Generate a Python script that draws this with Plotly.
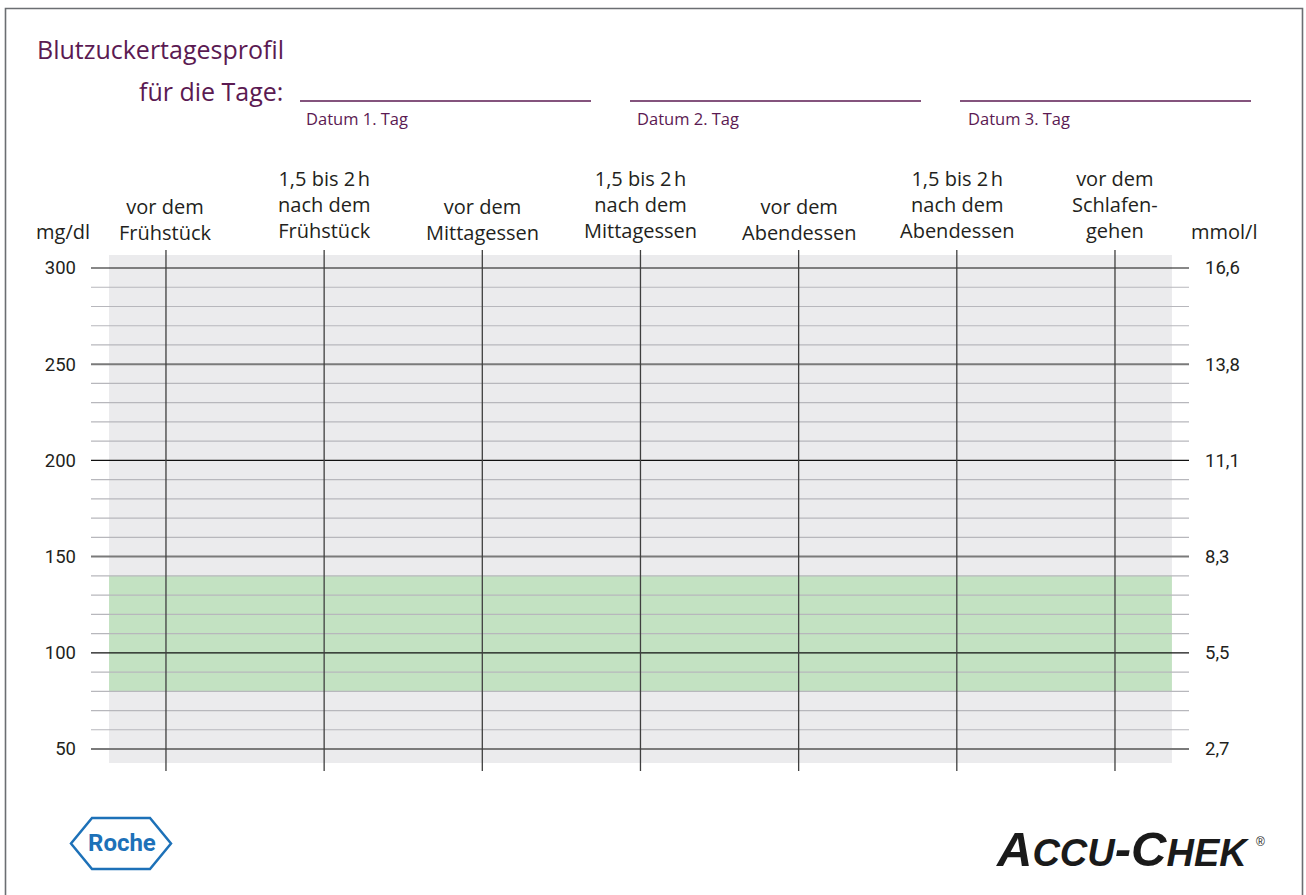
import plotly.graph_objects as go

# ---------------- data ----------------
headers = [
    ["vor dem", "Frühstück"],
    ["1,5 bis 2\u202fh", "nach dem", "Frühstück"],
    ["vor dem", "Mittagessen"],
    ["1,5 bis 2\u202fh", "nach dem", "Mittagessen"],
    ["vor dem", "Abendessen"],
    ["1,5 bis 2\u202fh", "nach dem", "Abendessen"],
    ["vor dem", "Schlafen-", "gehen"],
]
mgdl_ticks = [50, 100, 150, 200, 250, 300]
mgdl_text = ["50", "100", "150", "200", "250", "300"]
mmol_text = ["2,7", "5,5", "8,3", "11,1", "13,8", "16,6"]
minor_lines = [v for v in range(60, 300, 10) if v % 50 != 0]
black_lines = [100, 200, 300]
gray_lines = [50, 150, 250]
target_range = [80, 140]
date_labels = ["Datum 1. Tag", "Datum 2. Tag", "Datum 3. Tag"]

# ---------------- geometry ----------------
W, H = 1306, 895
L, R, T, B = 91, 1189, 250, 771          # plot area in pixels
YR = [38.57, 309.36]
XR = [-0.474, 6.468]
BG_X = [-0.36, 6.36]
BG_Y = [42.73, 306.76]

def px(x):
    return (x - L) / (R - L)

def py(y):
    return (B - y) / (B - T)

PURPLE = "#5b1a52"
TXT = "#231f20"
FONT_H = "Open Sans"
FONT_N = "Roboto"

fig = go.Figure()
fig.add_trace(go.Scatter(x=[0, 6], y=[50, 300], mode="markers",
                         marker=dict(opacity=0), hoverinfo="skip", showlegend=False))
fig.add_trace(go.Scatter(x=[0, 6], y=[50, 300], mode="markers", yaxis="y2",
                         marker=dict(opacity=0), hoverinfo="skip", showlegend=False))

shapes = []
shapes.append(dict(type="rect", xref="x", yref="y", x0=BG_X[0], x1=BG_X[1],
                   y0=BG_Y[0], y1=BG_Y[1], fillcolor="#ebebed", line=dict(width=0), layer="below"))
shapes.append(dict(type="rect", xref="x", yref="y", x0=BG_X[0], x1=BG_X[1],
                   y0=target_range[0], y1=target_range[1], fillcolor="#c3e2c2",
                   line=dict(width=0), layer="below"))
for v in minor_lines:
    shapes.append(dict(type="line", xref="paper", yref="y", x0=0, x1=1, y0=v, y1=v,
                       line=dict(color="#b7b7bc", width=1.2), layer="above"))
for v in gray_lines:
    shapes.append(dict(type="line", xref="paper", yref="y", x0=0, x1=1, y0=v, y1=v,
                       line=dict(color="#7a7a7a", width=2), layer="above"))
for v in black_lines:
    shapes.append(dict(type="line", xref="paper", yref="y", x0=0, x1=1, y0=v, y1=v,
                       line=dict(color="#111111", width=1.2), layer="above"))
for i in range(len(headers)):
    shapes.append(dict(type="line", xref="x", yref="paper", x0=i, x1=i, y0=0, y1=1,
                       line=dict(color="#3f3f3f", width=1.3), layer="above"))
for x0, x1 in [(300, 591), (630, 921), (960, 1251)]:
    shapes.append(dict(type="line", xref="paper", yref="paper", x0=px(x0), x1=px(x1),
                       y0=py(101), y1=py(101), line=dict(color=PURPLE, width=1.5)))
shapes.append(dict(type="rect", xref="paper", yref="paper", x0=px(5.5), x1=px(1302.5),
                   y0=py(905), y1=py(8.5), line=dict(color="#6b6e72", width=1.6)))
hx = [(92, 818), (150, 818), (171, 843.5), (150, 869), (92, 869), (71, 843.5)]
path = "M " + " L ".join(f"{px(a)},{py(b)}" for a, b in hx) + " Z"
shapes.append(dict(type="path", xref="paper", yref="paper", path=path,
                   line=dict(color="#1d71b8", width=2.5)))

ann = []
ann.append(dict(text="Blutzuckertagesprofil", x=px(35), y=py(49), xref="paper", yref="paper",
                xanchor="left", yanchor="middle", showarrow=False,
                font=dict(family=FONT_H, size=25, color=PURPLE)))
ann.append(dict(text="für die Tage:", x=px(285), y=py(91), xref="paper", yref="paper",
                xanchor="right", yanchor="middle", showarrow=False,
                font=dict(family=FONT_H, size=25, color=PURPLE)))
for lbl, x in zip(date_labels, [304, 635, 966]):
    ann.append(dict(text=lbl, x=px(x), y=py(118), xref="paper", yref="paper",
                    xanchor="left", yanchor="middle", showarrow=False,
                    font=dict(family=FONT_H, size=16.5, color=PURPLE)))
for i, lines in enumerate(headers):
    yc = 220 if len(lines) == 2 else 204
    ann.append(dict(text="<br>".join(lines), x=i, y=py(yc), xref="x", yref="paper",
                    xanchor="center", yanchor="middle", showarrow=False, align="center",
                    font=dict(family=FONT_H, size=20, color=TXT)))
ann.append(dict(text="mg/dl", x=px(63), y=py(232), xref="paper", yref="paper",
                xanchor="center", yanchor="middle", showarrow=False,
                font=dict(family=FONT_H, size=20, color=TXT)))
ann.append(dict(text="mmol/l", x=px(1224), y=py(232), xref="paper", yref="paper",
                xanchor="center", yanchor="middle", showarrow=False,
                font=dict(family=FONT_H, size=20, color=TXT)))
ann.append(dict(text="<b>Roche</b>", x=px(122), y=py(843), xref="paper", yref="paper",
                xanchor="center", yanchor="middle", showarrow=False,
                font=dict(family="Liberation Sans Narrow, Roboto", size=24, color="#1d71b8")))
ann.append(dict(text="<b><i>A<span style='font-size:38px'>CCU</span>-C<span style='font-size:38px'>HEK</span></i></b>",
                x=px(1251), y=py(849), xref="paper", yref="paper",
                xanchor="right", yanchor="middle", showarrow=False,
                font=dict(family="Liberation Sans", size=49, color="#1a1a1a")))
ann.append(dict(text="®", x=px(1254), y=py(842), xref="paper", yref="paper",
                xanchor="left", yanchor="middle", showarrow=False,
                font=dict(family="Liberation Sans", size=12, color="#1a1a1a")))

fig.update_layout(
    width=W, height=H,
    margin=dict(l=L, r=W - R, t=T, b=H - B, pad=0),
    paper_bgcolor="white", plot_bgcolor="rgba(0,0,0,0)",
    showlegend=False,
    xaxis=dict(range=XR, showgrid=False, zeroline=False, showline=False,
               showticklabels=False, ticks="", fixedrange=True),
    yaxis=dict(range=YR, tickvals=mgdl_ticks, ticktext=mgdl_text, showgrid=False,
               zeroline=False, showline=False, ticks="", ticklabelstandoff=14,
               tickfont=dict(family=FONT_N, size=18.5, color=TXT), fixedrange=True),
    yaxis2=dict(range=YR, overlaying="y", side="right", tickvals=mgdl_ticks,
                ticktext=mmol_text, showgrid=False, zeroline=False, showline=False,
                ticks="", ticklabelstandoff=15,
                tickfont=dict(family=FONT_N, size=18.5, color=TXT), fixedrange=True),
    shapes=shapes, annotations=ann,
)

fig.write_html("out.html", config={"displayModeBar": False},
               post_script="document.body.style.margin='0';document.body.style.overflow='hidden';")
